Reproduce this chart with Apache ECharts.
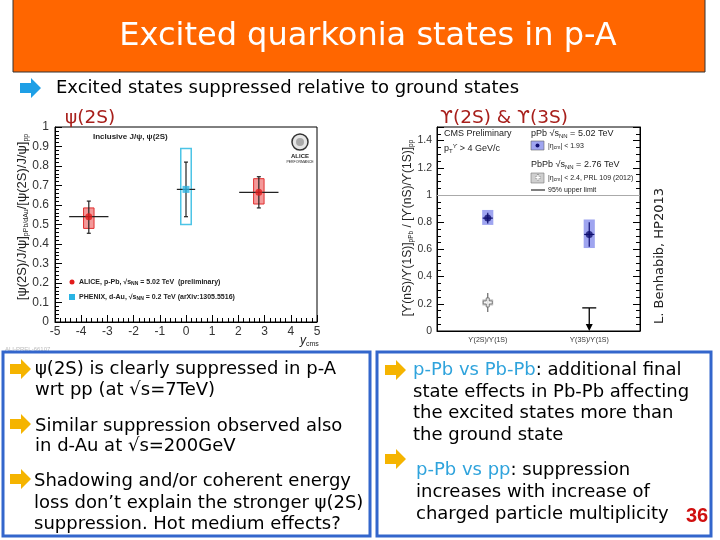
<!DOCTYPE html>
<html>
<head>
<meta charset="utf-8">
<script src="https://cdn.jsdelivr.net/npm/echarts@6/dist/echarts.min.js"></script>
<style>
  html, body { margin: 0; padding: 0; background: #fff; }
  #slide { width: 720px; height: 540px; }
</style>
</head>
<body>
<div id="slide"></div>
<script>
// ---- left plot: psi(2S) double ratio vs y_cms ----
const aliceX = [-3.71, 2.78]
const aliceXLo = [-4.46, 2.03]
const aliceXHi = [-2.96, 3.53]
const aliceVal = [0.54, 0.665]
const aliceStatLo = [0.455, 0.585]
const aliceStatHi = [0.62, 0.745]
const aliceSysLo = [0.48, 0.605]
const aliceSysHi = [0.585, 0.735]

const phenixX = [0]
const phenixXLo = [-0.35]
const phenixXHi = [0.35]
const phenixVal = [0.68]
const phenixStatLo = [0.54]
const phenixStatHi = [0.82]
const phenixSysLo = [0.5]
const phenixSysHi = [0.89]

const leftXTicks = [-5, -4, -3, -2, -1, 0, 1, 2, 3, 4, 5]

// ---- right plot: Upsilon double ratios ----
const upsCats = ['ϒ(2S)/ϒ(1S)', 'ϒ(3S)/ϒ(1S)']
const upsX = [0.5, 1.5]
const pPbVal = [0.83, 0.71]
const pPbStatLo = [0.79, 0.62]
const pPbStatHi = [0.87, 0.80]
const pPbSysLo = [0.78, 0.61]
const pPbSysHi = [0.89, 0.82]

const pbpbX = [0.5]
const pbpbVal = [0.21]
const pbpbStatLo = [0.14]
const pbpbStatHi = [0.28]
const pbpbSysLo = [0.19]
const pbpbSysHi = [0.23]
const pbpbLimitX = [1.5]
const pbpbLimit = [0.17]

const slideFont = 'DejaVu Sans'
const plotFont = 'Liberation Sans'

const chart = echarts.init(document.getElementById('slide'))

// box (systematic) renderer: value(0)=x, value(1)=lo, value(2)=hi
const boxRenderer = (halfW, style) => (params, api) => {
  const x = api.value(0)
  const p1 = api.coord([x - halfW, api.value(2)])
  const p2 = api.coord([x + halfW, api.value(1)])
  return {
    type: 'rect',
    shape: { x: p1[0], y: p1[1], width: p2[0] - p1[0], height: p2[1] - p1[1] },
    style: style
  }
}

// error bars: x, y, xlo, xhi, ylo, yhi
const errRenderer = (color, cap) => (params, api) => {
  const x = api.value(0), y = api.value(1)
  const c = api.coord([x, y])
  const l = api.coord([api.value(2), y])
  const r = api.coord([api.value(3), y])
  const lo = api.coord([x, api.value(4)])
  const hi = api.coord([x, api.value(5)])
  const st = { stroke: color, lineWidth: 1.2 }
  const kids = [
    { type: 'line', shape: { x1: l[0], y1: l[1], x2: r[0], y2: r[1] }, style: st },
    { type: 'line', shape: { x1: lo[0], y1: lo[1], x2: hi[0], y2: hi[1] }, style: st }
  ]
  if (cap) {
    kids.push({ type: 'line', shape: { x1: c[0] - cap, y1: lo[1], x2: c[0] + cap, y2: lo[1] }, style: st })
    kids.push({ type: 'line', shape: { x1: c[0] - cap, y1: hi[1], x2: c[0] + cap, y2: hi[1] }, style: st })
  }
  return { type: 'group', children: kids }
}

const arrow = (x0, yc, color) => ({
  type: 'polygon',
  shape: { points: [[x0, yc - 5], [x0 + 11, yc - 5], [x0 + 11, yc - 10], [x0 + 21, yc], [x0 + 11, yc + 10], [x0 + 11, yc + 5], [x0, yc + 5]] },
  style: { fill: color }
})

const txt = (s, x, y, size, opts, extra) => Object.assign({
  type: 'text', x: x, y: y,
  style: Object.assign({ text: s, fontSize: size, fontFamily: slideFont, fill: '#000', align: 'left', verticalAlign: 'middle' }, opts || {})
}, extra || {})

const plotTxt = (s, x, y, size, opts, extra) => txt(s, x, y, size, Object.assign({ fontFamily: plotFont, fill: '#222' }, opts || {}), extra)

const subStyle = (size, pad) => ({ fontSize: size, fontFamily: plotFont, fill: '#222', padding: pad })

const blue = '#3366cc'
const gold = '#f5b400'
const hl = '#2fa3dc'
const vertical = { rotation: Math.PI / 2 }

const graphics = [
  // title bar
  { type: 'rect', shape: { x: 13, y: -2, width: 692, height: 74 }, style: { fill: '#ff6600', stroke: '#333', lineWidth: 1 } },
  txt('Excited quarkonia states in p-A', 368, 37, 32, { fill: '#fff', align: 'center' }),
  arrow(20, 88, '#1e9fe6'),
  txt('Excited states suppressed relative to ground states', 56, 88, 18),

  // plot headings
  txt('ψ(2S)', 65, 118, 18.5, { fill: '#a8201c' }),
  txt('ϒ(2S) & ϒ(3S)', 440, 118, 18.5, { fill: '#a8201c' }),

  // left plot annotations
  plotTxt('[ψ(2S)/J/ψ]{s|pPb/dAu}/[ψ(2S)/J/ψ]{s|pp}', 22, 217, 13,
    { align: 'center', rich: { s: subStyle(7, [8, 0, 0, 0]) } }, vertical),
  plotTxt('Inclusive J/ψ, ψ(2S)', 93, 137, 8, { fontWeight: 'bold' }),
  { type: 'circle', shape: { cx: 72, cy: 282, r: 2.5 }, style: { fill: '#e21b1b' } },
  plotTxt('ALICE, p-Pb, √s{s|NN} = 5.02 TeV  (preliminary)', 79, 282, 7,
    { fontWeight: 'bold', rich: { s: Object.assign(subStyle(5, [4, 0, 0, 0]), { fontWeight: 'bold' }) } }),
  { type: 'rect', shape: { x: 69, y: 294, width: 6, height: 6 }, style: { fill: '#2ab4e4' } },
  plotTxt('PHENIX, d-Au, √s{s|NN} = 0.2 TeV (arXiv:1305.5516)', 79, 297, 7,
    { fontWeight: 'bold', rich: { s: Object.assign(subStyle(5, [4, 0, 0, 0]), { fontWeight: 'bold' }) } }),
  { type: 'circle', shape: { cx: 300, cy: 142, r: 8 }, style: { fill: '#e6e6e6', stroke: '#333', lineWidth: 1.5 } },
  { type: 'circle', shape: { cx: 300, cy: 142, r: 4 }, style: { fill: '#aaa' } },
  plotTxt('ALICE', 300, 156, 6, { align: 'center', fontWeight: 'bold' }),
  plotTxt('PERFORMANCE', 300, 162, 3.5, { align: 'center' }),
  plotTxt('{i|y}{s|cms}', 300, 341, 12, { rich: { i: { fontStyle: 'italic', fontSize: 12, fontFamily: plotFont, fill: '#222' }, s: subStyle(7, [6, 0, 0, 0]) } }),
  plotTxt('ALI-PREL-66107', 5, 349, 6, { fill: '#bbb' }),

  // right plot annotations
  plotTxt('[ϒ(nS)/ϒ(1S)]{s|pPb} / [ϒ(nS)/ϒ(1S)]{s|pp}', 408, 228, 12,
    { align: 'center', rich: { s: subStyle(6.5, [7, 0, 0, 0]) } }, vertical),
  plotTxt('CMS Preliminary', 444, 134, 9),
  plotTxt('p{s|T}{u|ϒ} > 4 GeV/c', 444, 149, 9, { rich: { s: subStyle(6, [5, 0, 0, 0]), u: subStyle(6, [0, 0, 6, 0]) } }),
  plotTxt('pPb √s{s|NN} = 5.02 TeV', 531, 134, 9, { rich: { s: subStyle(6, [5, 0, 0, 0]) } }),
  { type: 'rect', shape: { x: 531, y: 141, width: 13, height: 9 }, style: { fill: '#9fa5f0', stroke: '#666', lineWidth: 0.6 } },
  { type: 'circle', shape: { cx: 537.5, cy: 145.5, r: 2 }, style: { fill: '#101070' } },
  plotTxt('|η{s|cm}| < 1.93', 548, 146, 7, { rich: { s: subStyle(5, [4, 0, 0, 0]) } }),
  plotTxt('PbPb √s{s|NN} = 2.76 TeV', 531, 165, 9, { rich: { s: subStyle(6, [5, 0, 0, 0]) } }),
  { type: 'rect', shape: { x: 531, y: 173, width: 13, height: 10 }, style: { fill: '#cfcfcf', stroke: '#777', lineWidth: 0.6 } },
  plotTxt('✚', 537.5, 178, 7, { align: 'center', fill: '#fff', stroke: '#666', lineWidth: 0.6 }),
  plotTxt('|η{s|cm}| < 2.4, PRL 109 (2012)', 548, 178, 7, { rich: { s: subStyle(5, [4, 0, 0, 0]) } }),
  { type: 'line', shape: { x1: 531, y1: 190, x2: 545, y2: 190 }, style: { stroke: '#000', lineWidth: 1 } },
  plotTxt('95% upper limit', 548, 190, 7),
  txt('L. Benhabib, HP2013', 660, 256, 13, { fill: '#222', align: 'center' }, vertical),

  // bottom boxes
  { type: 'rect', shape: { x: 3, y: 352, width: 367, height: 184 }, style: { fill: 'none', stroke: blue, lineWidth: 3 } },
  { type: 'rect', shape: { x: 377, y: 352, width: 334, height: 184 }, style: { fill: 'none', stroke: blue, lineWidth: 3 } },
  arrow(10, 369, gold),
  txt('ψ(2S) is clearly suppressed in p-A', 35, 369, 18),
  txt('wrt pp (at √s=7TeV)', 35, 390, 18),
  arrow(10, 424, gold),
  txt('Similar suppression observed also', 35, 426, 18),
  txt('in d-Au at √s=200GeV', 35, 446, 18),
  arrow(10, 479, gold),
  txt('Shadowing and/or coherent energy', 34, 481, 18),
  txt('loss don’t explain the stronger ψ(2S)', 34, 503, 18),
  txt('suppression. Hot medium effects?', 34, 524, 18),
  arrow(385, 370, gold),
  txt('{h|p-Pb vs Pb-Pb}: additional final', 413, 370, 18, { rich: { h: { fill: hl, fontSize: 18, fontFamily: slideFont } } }),
  txt('state effects in Pb-Pb affecting', 413, 392, 18),
  txt('the excited states more than', 413, 413, 18),
  txt('the ground state', 413, 435, 18),
  arrow(385, 459, gold),
  txt('{h|p-Pb vs pp}: suppression', 416, 470, 18, { rich: { h: { fill: hl, fontSize: 18, fontFamily: slideFont } } }),
  txt('increases with increase of', 416, 492, 18),
  txt('charged particle multiplicity', 416, 514, 18),
  txt('36', 697, 516, 20, { fill: '#d01010', fontWeight: 'bold', fontFamily: 'Liberation Sans', align: 'center' })
]

const axisCommon = {
  axisLine: { show: true, onZero: false, lineStyle: { color: '#000', width: 1 } },
  axisTick: { show: true, inside: true, length: 7, lineStyle: { color: '#000' } },
  minorTick: { show: true, length: 4, lineStyle: { color: '#000' } },
  splitLine: { show: false },
  axisLabel: { color: '#333', fontFamily: plotFont, fontSize: 12 }
}

const option = {
  animation: false,
  backgroundColor: '#fff',
  graphic: graphics,
  grid: [
    { left: 55, top: 127, width: 262, height: 195, show: true, borderColor: '#000', borderWidth: 1, backgroundColor: 'transparent' },
    { left: 437, top: 127, width: 203, height: 204, show: true, borderColor: '#000', borderWidth: 1, backgroundColor: 'transparent' }
  ],
  xAxis: [
    Object.assign({}, axisCommon, {
      gridIndex: 0, type: 'value', min: leftXTicks[0], max: leftXTicks[leftXTicks.length - 1], interval: 1,
      minorTick: { show: true, splitNumber: 5, length: 4, lineStyle: { color: '#000' } },
      axisLabel: { color: '#333', fontFamily: plotFont, fontSize: 12, margin: 4 }
    }),
    Object.assign({}, axisCommon, {
      gridIndex: 1, type: 'value', min: 0, max: 2, interval: 0.5,
      axisTick: { show: false }, minorTick: { show: false },
      axisLabel: {
        color: '#333', fontFamily: plotFont, fontSize: 7, margin: 6,
        formatter: v => { const i = upsX.indexOf(v); return i >= 0 ? upsCats[i] : '' }
      }
    })
  ],
  yAxis: [
    Object.assign({}, axisCommon, {
      gridIndex: 0, type: 'value', min: 0, max: 1, interval: 0.1,
      minorTick: { show: true, splitNumber: 5, length: 4, lineStyle: { color: '#000' } },
      axisLabel: { color: '#333', fontFamily: plotFont, fontSize: 12, margin: 6, formatter: v => (v === 0 || v === 1) ? String(v) : v.toFixed(1) }
    }),
    Object.assign({}, axisCommon, {
      gridIndex: 1, type: 'value', min: 0, max: 1.5, interval: 0.2,
      minorTick: { show: true, splitNumber: 4, length: 4, lineStyle: { color: '#000' } },
      axisLabel: { color: '#333', fontFamily: plotFont, fontSize: 10.5, margin: 5, showMaxLabel: false, formatter: v => (v === 0 || v === 1) ? String(v) : v.toFixed(1) }
    }),
    Object.assign({}, axisCommon, {
      gridIndex: 1, type: 'value', min: 0, max: 1.5, interval: 0.2, position: 'right',
      axisLabel: { show: false },
      minorTick: { show: true, splitNumber: 4, length: 4, lineStyle: { color: '#000' } }
    })
  ],
  series: [
    // ---- left ----
    {
      type: 'custom', xAxisIndex: 0, yAxisIndex: 0,
      renderItem: boxRenderer(0.2, { fill: 'rgba(240,110,110,0.7)', stroke: '#e03030', lineWidth: 1 }),
      data: aliceX.map((x, i) => [x, aliceSysLo[i], aliceSysHi[i]])
    },
    {
      type: 'custom', xAxisIndex: 0, yAxisIndex: 0,
      renderItem: boxRenderer(0.2, { fill: 'none', stroke: '#4cc4e6', lineWidth: 1.5 }),
      data: phenixX.map((x, i) => [x, phenixSysLo[i], phenixSysHi[i]])
    },
    {
      type: 'custom', xAxisIndex: 0, yAxisIndex: 0,
      renderItem: errRenderer('#222', 2),
      data: aliceX.map((x, i) => [x, aliceVal[i], aliceXLo[i], aliceXHi[i], aliceStatLo[i], aliceStatHi[i]])
    },
    {
      type: 'custom', xAxisIndex: 0, yAxisIndex: 0,
      renderItem: errRenderer('#222', 2),
      data: phenixX.map((x, i) => [x, phenixVal[i], phenixXLo[i], phenixXHi[i], phenixStatLo[i], phenixStatHi[i]])
    },
    {
      name: 'ALICE', type: 'scatter', xAxisIndex: 0, yAxisIndex: 0, symbol: 'circle', symbolSize: 7,
      itemStyle: { color: '#e21b1b' },
      data: aliceX.map((x, i) => [x, aliceVal[i]])
    },
    {
      name: 'PHENIX', type: 'scatter', xAxisIndex: 0, yAxisIndex: 0, symbol: 'rect', symbolSize: 7,
      itemStyle: { color: '#2ab4e4' },
      data: phenixX.map((x, i) => [x, phenixVal[i]])
    },
    // ---- right ----
    {
      type: 'custom', xAxisIndex: 1, yAxisIndex: 1,
      renderItem: boxRenderer(0.055, { fill: '#9fa5f0' }),
      data: upsX.map((x, i) => [x, pPbSysLo[i], pPbSysHi[i]])
    },
    {
      type: 'custom', xAxisIndex: 1, yAxisIndex: 1,
      renderItem: boxRenderer(0.05, { fill: '#cfcfcf', stroke: '#aaa', lineWidth: 0.5 }),
      data: pbpbX.map((x, i) => [x, pbpbSysLo[i], pbpbSysHi[i]])
    },
    {
      type: 'custom', xAxisIndex: 1, yAxisIndex: 1,
      renderItem: errRenderer('#101070', 0),
      data: upsX.map((x, i) => [x, pPbVal[i], x - 0.05, x + 0.05, pPbStatLo[i], pPbStatHi[i]])
    },
    {
      type: 'custom', xAxisIndex: 1, yAxisIndex: 1,
      renderItem: errRenderer('#666', 0),
      data: pbpbX.map((x, i) => [x, pbpbVal[i], x, x, pbpbStatLo[i], pbpbStatHi[i]])
    },
    {
      type: 'custom', xAxisIndex: 1, yAxisIndex: 1,
      renderItem: (params, api) => {
        const top = api.coord([api.value(0), api.value(1)])
        const bot = api.coord([api.value(0), 0])
        const st = { stroke: '#000', lineWidth: 1.3 }
        return {
          type: 'group', children: [
            { type: 'line', shape: { x1: top[0] - 7, y1: top[1], x2: top[0] + 7, y2: top[1] }, style: st },
            { type: 'line', shape: { x1: top[0], y1: top[1], x2: bot[0], y2: bot[1] - 4 }, style: st },
            { type: 'polygon', shape: { points: [[bot[0] - 3.5, bot[1] - 7], [bot[0] + 3.5, bot[1] - 7], [bot[0], bot[1]]] }, style: { fill: '#000' } }
          ]
        }
      },
      data: pbpbLimitX.map((x, i) => [x, pbpbLimit[i]])
    },
    {
      name: 'pPb', type: 'scatter', xAxisIndex: 1, yAxisIndex: 1, symbol: 'circle', symbolSize: 7,
      itemStyle: { color: '#101070' },
      data: upsX.map((x, i) => [x, pPbVal[i]]),
      markLine: {
        silent: true, symbol: 'none', label: { show: false },
        lineStyle: { color: '#aaa', type: 'solid', width: 1 },
        data: [{ yAxis: 1 }]
      }
    },
    {
      name: 'PbPb', type: 'scatter', xAxisIndex: 1, yAxisIndex: 1, symbolSize: 9,
      symbol: 'path://M3,0 L6,0 L6,3 L9,3 L9,6 L6,6 L6,9 L3,9 L3,6 L0,6 L0,3 L3,3 Z',
      itemStyle: { color: '#fff', borderColor: '#666', borderWidth: 1 },
      data: pbpbX.map((x, i) => [x, pbpbVal[i]])
    }
  ]
}

chart.setOption(option)
</script>
</body>
</html>
